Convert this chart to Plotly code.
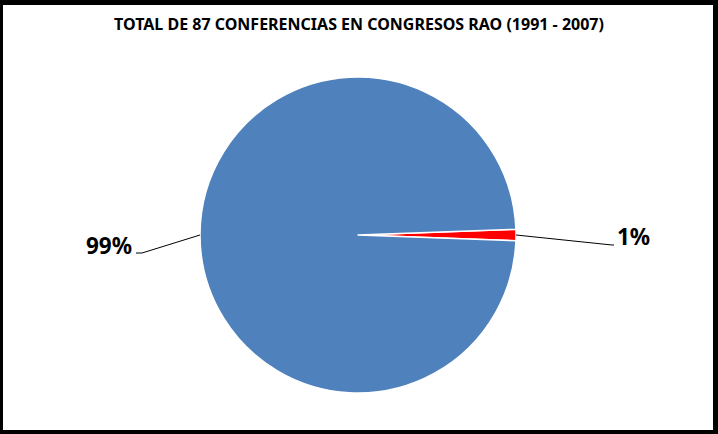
import math
import plotly.graph_objects as go

# ---- data ----
labels = ["Conferencias RAO (1%)", "Otras conferencias (99%)"]
values = [1, 86]
text_labels = ["1%", "99%"]
colors = ["#FF0000", "#4F81BD"]
title_text = "TOTAL DE 87 CONFERENCIAS EN CONGRESOS RAO (1991 - 2007)"

W, H = 718, 434
# pie geometry (pixels)
CX, CY, R = 358, 235, 158

total = sum(values)
rotation = 90 - 360 * values[0] / total / 2

fig = go.Figure(go.Pie(
    labels=labels, values=values, sort=False, direction="clockwise",
    rotation=rotation, textinfo="none", hoverinfo="label+value+percent",
    marker=dict(colors=colors, line=dict(color="white", width=1.5)),
    domain=dict(x=[(CX - R) / W, (CX + R) / W], y=[1 - (CY + R) / H, 1 - (CY - R) / H]),
    showlegend=False,
))

def px(x, y):
    return x / W, 1 - y / H

# leader-line styling offsets per label: (dx1, dy1, dx2), text offset (tx, ty), anchor
styles = [
    dict(d1=(96, 10), d2=2, t=(1, -9), anchor="left"),
    dict(d1=(-58, 18), d2=-6, t=(-2, -8), anchor="right"),
]

shapes = []
annotations = []
ang = rotation
for v, lab, st in zip(values, text_labels, styles):
    span = 360 * v / total
    mid = ang + span / 2  # clockwise from 12 o'clock
    ang += span
    ex = CX + R * math.sin(math.radians(mid))
    ey = CY - R * math.cos(math.radians(mid))
    x1, y1 = ex + st["d1"][0], ey + st["d1"][1]
    x2, y2 = x1 + st["d2"], y1
    p0, p1, p2 = px(ex, ey), px(x1, y1), px(x2, y2)
    shapes.append(dict(type="path", xref="paper", yref="paper",
                       path=f"M {p0[0]} {p0[1]} L {p1[0]} {p1[1]} L {p2[0]} {p2[1]}",
                       line=dict(color="black", width=1)))
    tx, ty = px(x2 + st["t"][0], y2 + st["t"][1])
    annotations.append(dict(x=tx, y=ty, xref="paper", yref="paper", text=f"<b>{lab}</b>",
                            showarrow=False, xanchor=st["anchor"], yanchor="middle",
                            font=dict(family="Noto Sans", size=22.5, color="black")))

# thick black frame
for x0, y0, x1, y1 in [(0, 0, 3, H), (0, 0, W, 5), (W - 5, 0, W, H), (0, H - 4, W, H)]:
    a, b = px(x0, y0)
    c, d = px(x1, y1)
    shapes.append(dict(type="rect", xref="paper", yref="paper", x0=a, y0=d, x1=c, y1=b,
                       fillcolor="black", line=dict(width=0)))

fig.update_layout(
    width=W, height=H, margin=dict(l=0, r=0, t=0, b=0),
    paper_bgcolor="white", plot_bgcolor="white",
    title=dict(text=f"<b>{title_text}</b>", x=0.5, xanchor="center",
               y=1 - 24.5 / H, yanchor="middle",
               font=dict(family="Noto Sans", size=16, color="black")),
    shapes=shapes, annotations=annotations,
)

fig.write_html("out.html", config={"displayModeBar": False},
               post_script="document.body.style.margin='0';document.body.style.overflow='hidden';")
